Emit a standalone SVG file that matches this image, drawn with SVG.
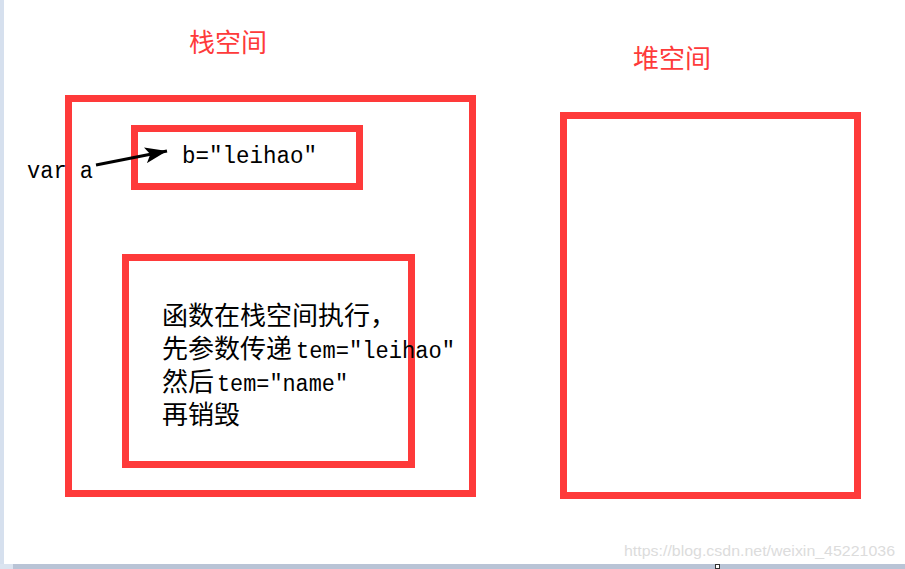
<svg xmlns="http://www.w3.org/2000/svg" width="905" height="569" viewBox="0 0 905 569">
<defs>
<style>
.box{fill:none;stroke:#fe3a3a;stroke-width:7}
.title{font-family:"Noto Sans CJK SC","Noto Sans CJK JP",sans-serif;font-size:26px;fill:#fe3a3a}
.cjk{font-family:"Noto Sans CJK SC","Noto Sans CJK JP",sans-serif;font-size:26px;fill:#000}
.mono{font-family:"Liberation Mono","DejaVu Sans Mono",monospace;font-size:23.5px;fill:#000}
.wm{font-family:"Liberation Sans",Arial,sans-serif;font-size:15px;fill:#dcdcdc}
</style>
<marker id="ah2" viewBox="0 0 22 16" refX="22" refY="8" markerWidth="22" markerHeight="16" orient="auto" markerUnits="userSpaceOnUse">
<path d="M0,0 L22,8 L0,16 L5,8 Z" fill="#000"/>
</marker>
</defs>
<rect width="905" height="569" fill="#fff"/>
<rect x="0" y="0" width="4" height="569" fill="#d6e0ee"/>
<rect x="0" y="564" width="905" height="5" fill="#b9c4d6"/>
<rect x="0" y="564" width="13" height="5" fill="#dbe4f0"/>
<rect x="715.5" y="564.5" width="4" height="4" fill="#fff" stroke="#333" stroke-width="1"/>

<g id="stack-title"><text class="title" x="189" y="52">栈空间</text></g>
<g id="heap-title"><text class="title" x="633" y="68">堆空间</text></g>

<g id="stack-space"><rect class="box" x="68.5" y="98.5" width="404" height="395"/></g>
<g id="heap-space"><rect class="box" x="563.5" y="115.5" width="294" height="380"/></g>

<g id="var-a"><text class="mono" x="27" y="178" textLength="66" lengthAdjust="spacingAndGlyphs">var a</text></g>

<g id="value-b">
<rect class="box" x="134.5" y="128.5" width="225" height="58"/>
<text class="mono" x="182" y="163" textLength="135" lengthAdjust="spacingAndGlyphs">b=&quot;leihao&quot;</text>
</g>

<g id="function-frame">
<rect class="box" x="125.5" y="257.5" width="286" height="207"/>
<text class="cjk" x="162" y="325">函数在栈空间执行，</text>
<text class="cjk" x="162" y="358">先参数传递</text>
<text class="mono" x="296" y="358" textLength="159" lengthAdjust="spacingAndGlyphs">tem=&quot;leihao&quot;</text>
<text class="cjk" x="162" y="391">然后</text>
<text class="mono" x="217" y="391" textLength="131" lengthAdjust="spacingAndGlyphs">tem=&quot;name&quot;</text>
<text class="cjk" x="162" y="424">再销毁</text>
</g>

<g id="connectors">
<line x1="96" y1="165" x2="167" y2="151" stroke="#000" stroke-width="3" marker-end="url(#ah2)"/>
</g>

<text class="wm" x="624" y="556" textLength="271" lengthAdjust="spacingAndGlyphs">https://blog.csdn.net/weixin_45221036</text>
</svg>
